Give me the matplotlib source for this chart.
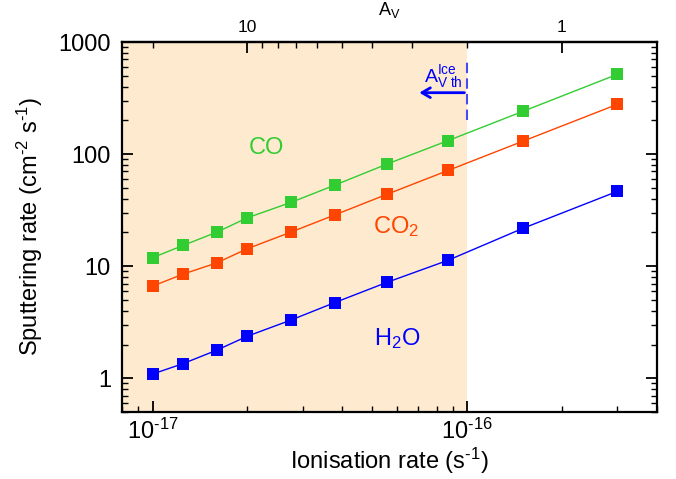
import matplotlib
matplotlib.use("Agg")
import matplotlib.pyplot as plt
from matplotlib.ticker import FixedLocator, NullFormatter, FixedFormatter

plt.rcParams['font.family'] = ['Liberation Sans', 'DejaVu Sans']
plt.rcParams['mathtext.fontset'] = 'custom'
plt.rcParams['mathtext.rm'] = 'Liberation Sans'
plt.rcParams['mathtext.it'] = 'Liberation Sans:italic'
plt.rcParams['mathtext.bf'] = 'Liberation Sans:bold'

# ---- data ----
ionisation = [1.0e-17, 1.25e-17, 1.6e-17, 2.0e-17, 2.75e-17, 3.8e-17, 5.55e-17, 8.7e-17, 1.5e-16, 3.0e-16]
co_rate = [11.9, 15.3, 20.1, 27.0, 37.0, 52.9, 81.3, 132, 240, 515]
co2_rate = [6.63, 8.49, 10.7, 14.3, 20.1, 28.7, 43.7, 71.5, 130, 278]
h2o_rate = [1.09, 1.35, 1.78, 2.37, 3.30, 4.74, 7.16, 11.3, 21.7, 46.5]
species = ['CO', 'CO$_2$', 'H$_2$O']
colors = ['#32CD32', '#FF4500', '#0000FF']

x_limits = (8e-18, 4e-16)
y_limits = (0.5, 1000)
threshold = 1e-16          # A_V threshold in ionisation rate
av_scale = 2e-16           # A_V = av_scale / ionisation rate
av_major = [10, 1]
av_major_labels = ['10', '1']
av_minor = [20, 9, 8, 7, 6, 5, 4, 3, 2]
x_major = [1e-17, 1e-16]
x_major_labels = [r'10$^{\text{-17}}$', r'10$^{\text{-16}}$']
x_minor = [8e-18, 9e-18, 2e-17, 3e-17, 4e-17, 5e-17, 6e-17, 7e-17, 8e-17, 9e-17, 2e-16, 3e-16, 4e-16]
y_major = [1, 10, 100, 1000]
y_major_labels = ['1', '10', '100', '1000']

fig = plt.figure(figsize=(6.76, 4.79), dpi=100)
ax = fig.add_axes([0.1805, 0.1399, 0.7909, 0.7724])
ax.set_xscale('log')
ax.set_yscale('log')
ax.set_xlim(*x_limits)
ax.set_ylim(*y_limits)

ax.axvspan(x_limits[0], threshold, color='#FDEACF', lw=0, zorder=0)

for vals, col in zip([co_rate, co2_rate, h2o_rate], colors):
    ax.plot(ionisation, vals, color=col, lw=1.0, marker='s', markersize=9,
            markeredgewidth=0, zorder=3)

# labels of species
ax.text(2.3e-17, 101, species[0], color=colors[0], fontsize=17, ha='center', va='baseline')
ax.text(5.93e-17, 19.7, species[1], color=colors[1], fontsize=17, ha='center', va='baseline')
ax.text(5.97e-17, 1.97, species[2], color=colors[2], fontsize=17, ha='center', va='baseline')

# threshold marker
ax.plot([threshold, threshold], [201, 705], ls=(0, (5, 2.5)), color='#4B4BF0', lw=1.5, zorder=4)
ax.annotate('', xy=(6.9e-17, 353), xytext=(threshold, 353),
            arrowprops=dict(arrowstyle='->,head_length=0.6,head_width=0.35', color='#0000FF', lw=2),
            zorder=4)
ax.text(7.3e-17, 440, r'$\mathregular{A^{Ice}_{V\ th}}$', color='#0000FF', fontsize=14,
        ha='left', va='baseline')

# ticks
ax.xaxis.set_major_locator(FixedLocator(x_major))
ax.xaxis.set_major_formatter(FixedFormatter(x_major_labels))
ax.xaxis.set_minor_locator(FixedLocator(x_minor))
ax.xaxis.set_minor_formatter(NullFormatter())
ax.yaxis.set_major_locator(FixedLocator(y_major))
ax.yaxis.set_major_formatter(FixedFormatter(y_major_labels))
minor_y = [m * d for d in [0.1, 1, 10, 100] for m in range(2, 10)]
ax.yaxis.set_minor_locator(FixedLocator(minor_y))
ax.yaxis.set_minor_formatter(NullFormatter())

ax.tick_params(which='both', direction='in', top=False, right=True, labelsize=17,
               colors='black')
ax.tick_params(which='major', length=8, width=1.3, pad=8)
ax.tick_params(axis='x', which='major', pad=5)
ax.tick_params(which='minor', length=4.5, width=1.0)
for s in ax.spines.values():
    s.set_linewidth(1.6)

ax.set_xlabel('Ionisation rate (s$^{\\text{-1}}$)', fontsize=17, labelpad=1)
ax.set_ylabel('Sputtering rate (cm$^{\\text{-2}}$ s$^{\\text{-1}}$)', fontsize=17, labelpad=10)

secax = ax.secondary_xaxis('top', functions=(lambda z: av_scale / z, lambda a: av_scale / a))
secax.xaxis.set_major_locator(FixedLocator(av_major))
secax.xaxis.set_major_formatter(FixedFormatter(av_major_labels))
secax.xaxis.set_minor_locator(FixedLocator(av_minor))
secax.xaxis.set_minor_formatter(NullFormatter())
secax.tick_params(which='both', direction='in', labelsize=12.5)
secax.tick_params(which='major', length=8, width=1.3, pad=5)
secax.tick_params(which='minor', length=4.5, width=1.0)
secax.spines['top'].set_linewidth(1.6)
secax.set_xlabel('A$_\\mathregular{V}$', fontsize=13, labelpad=4)

fig.savefig('out.png', dpi=100)
